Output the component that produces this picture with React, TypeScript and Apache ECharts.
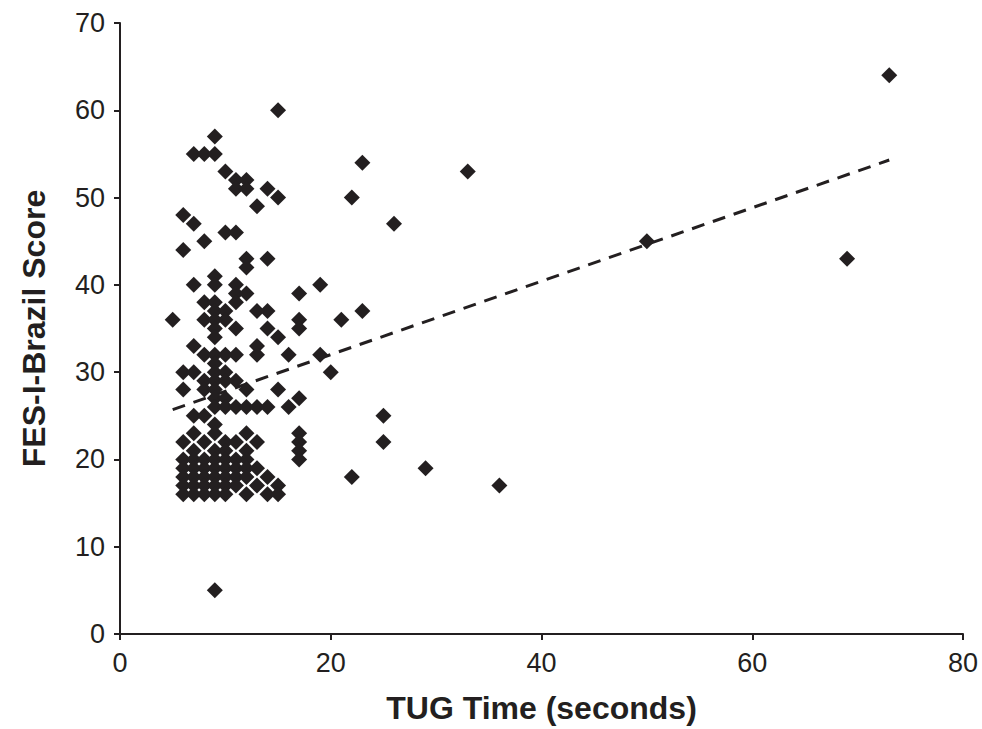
import React, { useEffect, useRef } from "react";
import * as echarts from "echarts";

// TUG time (s), FES-I-Brazil score
const tugTime: number[] = [
  73, 69, 50, 33, 36, 29, 25, 25, 22, 26, 23, 22, 23, 21, 19, 19, 20,
  17, 17, 17, 17, 16, 17, 17, 17, 17, 16, 15, 15, 14, 13, 14, 14, 13, 14, 15, 15, 9,
  9, 7, 8, 9, 10, 11, 12, 11, 12, 6, 7, 10, 11, 8, 6, 12, 12, 9, 9, 7, 11, 11, 12, 11,
  8, 9, 9, 10, 10, 8, 9, 9, 9, 5, 11, 7, 13,
  8, 9, 10, 11, 13, 9, 6, 7, 9, 10, 8, 9, 11, 10, 6, 8, 9, 12, 9, 10, 9, 10, 11, 12, 13, 14, 7, 8, 9,
  7, 9, 12, 6, 8, 10, 11, 13, 7, 9, 10, 12,
  6, 7, 8, 9, 10, 11, 12,
  6, 7, 8, 9, 10, 11, 12, 13,
  6, 7, 8, 9, 10, 11, 12, 14,
  6, 7, 8, 9, 10, 11, 13, 15,
  6, 7, 8, 9, 10, 12, 14, 15,
];
const fesScore: number[] = [
  64, 43, 45, 53, 17, 19, 25, 22, 18, 47, 54, 50, 37, 36, 40, 32, 30,
  39, 36, 35, 27, 26, 23, 22, 21, 20, 32, 60, 50, 51, 49, 43, 37, 37, 35, 34, 28, 5,
  57, 55, 55, 55, 53, 52, 52, 51, 51, 48, 47, 46, 46, 45, 44, 43, 42, 41, 40, 40, 40, 39, 39, 38,
  38, 38, 37, 37, 36, 36, 36, 35, 34, 36, 35, 33, 33,
  32, 32, 32, 32, 32, 31, 30, 30, 30, 30, 29, 29, 29, 29, 28, 28, 28, 28, 27, 27, 26, 26, 26, 26, 26, 26, 25, 25, 24,
  23, 23, 23, 22, 22, 22, 22, 22, 21, 21, 21, 21,
  20, 20, 20, 20, 20, 20, 20,
  19, 19, 19, 19, 19, 19, 19, 19,
  18, 18, 18, 18, 18, 18, 18, 18,
  17, 17, 17, 17, 17, 17, 17, 17,
  16, 16, 16, 16, 16, 16, 16, 16,
];

// Dashed linear trend line end points
const trendX: number[] = [5, 73];
const trendY: number[] = [25.7, 54.3];

const xTicks: number[] = [0, 20, 40, 60, 80];
const yTicks: number[] = [0, 10, 20, 30, 40, 50, 60, 70];

const INK = "#231f20";
const FONT = "Liberation Sans, Arial, sans-serif";

export default function App() {
  const ref = useRef<HTMLDivElement>(null);

  useEffect(() => {
    document.body.style.margin = "0";
    if (!ref.current) return;
    const chart = echarts.init(ref.current, undefined, { renderer: "svg" });
    const points = tugTime.map((x, i) => [x, fesScore[i]]);
    const trend = trendX.map((x, i) => [x, trendY[i]]);
    chart.setOption({
      animation: false,
      backgroundColor: "#ffffff",
      grid: { left: 120, right: 19, top: 23, bottom: 95 },
      xAxis: {
        type: "value",
        min: xTicks[0],
        max: xTicks[xTicks.length - 1],
        interval: 20,
        name: "TUG Time (seconds)",
        nameLocation: "middle",
        nameGap: 58,
        nameTextStyle: { fontFamily: FONT, fontWeight: "bold", fontSize: 32, color: INK },
        axisLine: { onZero: false, lineStyle: { color: INK, width: 2 } },
        axisTick: { show: true, length: 6, lineStyle: { color: INK, width: 2 } },
        axisLabel: { margin: 15, fontFamily: FONT, fontSize: 27, color: INK },
        splitLine: { show: false },
      },
      yAxis: {
        type: "value",
        min: yTicks[0],
        max: yTicks[yTicks.length - 1],
        interval: 10,
        name: "FES-I-Brazil Score",
        nameLocation: "middle",
        nameGap: 70,
        nameTextStyle: { fontFamily: FONT, fontWeight: "bold", fontSize: 32, color: INK },
        axisLine: { show: true, onZero: false, lineStyle: { color: INK, width: 2 } },
        axisTick: { show: true, length: 6, lineStyle: { color: INK, width: 2 } },
        axisLabel: { margin: 15, fontFamily: FONT, fontSize: 27, color: INK },
        splitLine: { show: false },
      },
      series: [
        {
          type: "line",
          data: trend,
          symbol: "none",
          z: 1,
          lineStyle: { color: INK, width: 3, type: [13, 9] },
        },
        {
          type: "scatter",
          data: points,
          symbol: "diamond",
          symbolSize: 16,
          z: 2,
          itemStyle: { color: INK, opacity: 1 },
        },
      ],
    });
    return () => chart.dispose();
  }, []);

  return <div ref={ref} style={{ width: 982, height: 729 }} />;
}
